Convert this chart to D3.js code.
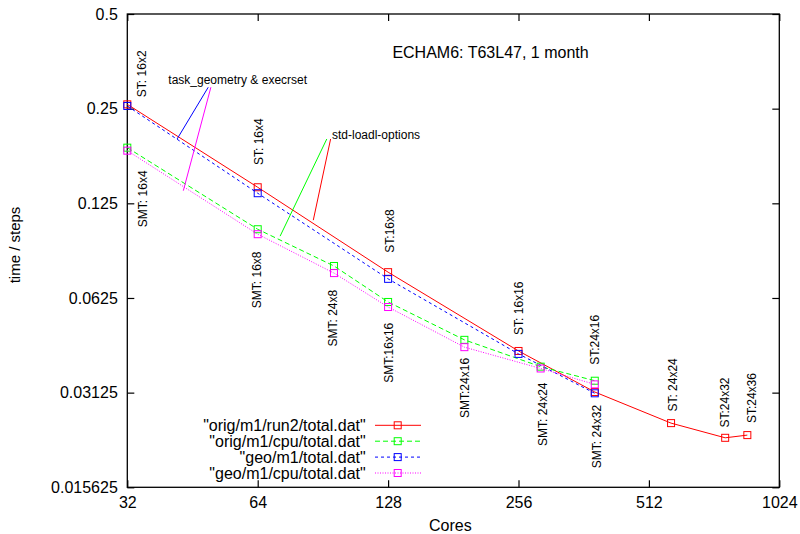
<!DOCTYPE html>
<html>
<head>
<meta charset="utf-8">
<script src="https://cdn.jsdelivr.net/npm/d3@7"></script>
<style>
	body { margin: 0; background: #fff; }
	#vizHolder { width: 800px; height: 534px; }
	text { font-family: "Liberation Sans", Arial, sans-serif; }
</style>
</head>
<body>
<div id="vizHolder"></div>
<script>
// data (cores -> time per step)
var xTicks = [32, 64, 128, 256, 512, 1024],
	yTicks = [0.015625, 0.03125, 0.0625, 0.125, 0.25, 0.5];

var origRunCores = [32, 64, 128, 256, 384, 576, 768, 864],
	origRunTime  = [0.258, 0.1406, 0.0755, 0.0424, 0.0314, 0.0250, 0.02245, 0.0229];

var origCpuCores = [32, 64, 96, 128, 192, 288, 384],
	origCpuTime  = [0.1879, 0.1034, 0.0790, 0.0607, 0.0460, 0.0378, 0.0341];

var geoCores = [32, 64, 128, 256, 384],
	geoTime  = [0.255, 0.1346, 0.0719, 0.0415, 0.0311];

var geoCpuCores = [32, 64, 96, 128, 192, 288, 384],
	geoCpuTime  = [0.1838, 0.0997, 0.0750, 0.0585, 0.0436, 0.0373, 0.0332];

var seriesNames = ['"orig/m1/run2/total.dat"', '"orig/m1/cpu/total.dat"', '"geo/m1/total.dat"', '"geo/m1/cpu/total.dat"'];

// point annotations: text, cores, time (bottom of rotated text)
var pointLabels = [
	['ST: 16x2', 34.6, 0.272],
	['SMT: 16x4', 34.8, 0.105],
	['ST: 16x4', 64.4, 0.1655],
	['SMT: 16x8', 63.7, 0.058],
	['SMT: 24x8', 95.5, 0.0438],
	['ST:16x8', 128.9, 0.0871],
	['SMT:16x16', 128.8, 0.0336],
	['SMT:24x16', 192.6, 0.02596],
	['ST: 16x16', 257, 0.0477],
	['SMT: 24x24', 291, 0.02116],
	['ST:24x16', 384, 0.0383],
	['SMT: 24x32', 388, 0.01796],
	['ST: 24x24', 581, 0.0272],
	['ST:24x32', 764.6, 0.0242],
	['ST:24x36', 884, 0.025]
];

// pointer lines from the two notes
var noteTexts = [['task_geometry & execrset', 39.8, 0.308], ['std-loadl-options', 95.0, 0.2061]];
var noteLines = [
	[49.2, 0.2924, 41.7, 0.2002, 'blue'],
	[49.9, 0.2924, 43.1, 0.1371, 'magenta'],
	[92.4, 0.2002, 72.1, 0.0983, 'green'],
	[94.3, 0.2002, 86.0, 0.1105, 'red']
];

var vizHolder = document.querySelector('#vizHolder'),
	width = 800,
	height = 534,
	margin = {left: 127.3, right: 20.7, top: 14, bottom: 46.7},
	font = '"Liberation Sans", Arial, sans-serif';

var colors = {red: '#ff0000', green: '#00ff00', blue: '#0000ff', magenta: '#ff00ff'};
var series = [
	{cores: origRunCores, time: origRunTime, color: colors.red, dash: null},
	{cores: origCpuCores, time: origCpuTime, color: colors.green, dash: '5,3'},
	{cores: geoCores, time: geoTime, color: colors.blue, dash: '3,3'},
	{cores: geoCpuCores, time: geoCpuTime, color: colors.magenta, dash: '1,1.5'}
];

var xScale = d3.scaleLog().base(2)
	.domain([32, 1024])
	.range([margin.left, width - margin.right]);

var yScale = d3.scaleLog().base(2)
	.domain([0.015625, 0.5])
	.range([height - margin.bottom, margin.top]);

var svg = d3.select(vizHolder)
	.append('svg')
	.attr('width', width)
	.attr('height', height);

var fmt = function(d) { return String(d); };

// axes, ticks inward on all sides
var xAxis = svg.append('g')
	.attr('transform', 'translate(0,' + (height - margin.bottom) + ')')
	.call(d3.axisBottom(xScale).tickValues(xTicks).tickFormat(fmt).tickSize(-7).tickSizeOuter(0).tickPadding(9));

var yAxis = svg.append('g')
	.attr('transform', 'translate(' + margin.left + ',0)')
	.call(d3.axisLeft(yScale).tickValues(yTicks).tickFormat(fmt).tickSize(-7).tickSizeOuter(0).tickPadding(9.5));

svg.append('g')
	.attr('transform', 'translate(0,' + margin.top + ')')
	.call(d3.axisTop(xScale).tickValues(xTicks).tickFormat('').tickSize(-7).tickSizeOuter(0));

svg.append('g')
	.attr('transform', 'translate(' + (width - margin.right) + ',0)')
	.call(d3.axisRight(yScale).tickValues(yTicks).tickFormat('').tickSize(-7).tickSizeOuter(0));

svg.selectAll('.domain').remove();
svg.selectAll('.tick line').attr('stroke', '#000').attr('stroke-width', 1.2);
svg.selectAll('.tick text')
	.attr('font-family', font)
	.attr('font-size', 16)
	.attr('fill', '#000');

svg.append('rect')
	.attr('x', margin.left)
	.attr('y', margin.top)
	.attr('width', width - margin.left - margin.right)
	.attr('height', height - margin.top - margin.bottom)
	.attr('fill', 'none')
	.attr('stroke', '#000')
	.attr('stroke-width', 1.3);

// axis titles
svg.append('text')
	.attr('x', (margin.left + width - margin.right) / 2 - 3)
	.attr('y', 531)
	.attr('text-anchor', 'middle')
	.attr('font-size', 16)
	.text('Cores');

svg.append('text')
	.attr('transform', 'translate(20,245) rotate(-90)')
	.attr('text-anchor', 'middle')
	.attr('font-size', 15)
	.text('time / steps');

svg.append('text')
	.attr('x', 490.5)
	.attr('y', 58)
	.attr('text-anchor', 'middle')
	.attr('font-size', 16)
	.text('ECHAM6: T63L47, 1 month');

// series lines + square points
var line = d3.line()
	.x(function(d) { return xScale(d[0]); })
	.y(function(d) { return yScale(d[1]); });

series.forEach(function(s) {
	var pts = d3.zip(s.cores, s.time);
	svg.append('path')
		.datum(pts)
		.attr('d', line)
		.attr('fill', 'none')
		.attr('stroke', s.color)
		.attr('stroke-width', 1)
		.attr('stroke-dasharray', s.dash);

	svg.selectAll(null)
		.data(pts)
		.enter()
		.append('rect')
		.attr('x', function(d) { return xScale(d[0]) - 3.5; })
		.attr('y', function(d) { return yScale(d[1]) - 3.5; })
		.attr('width', 7)
		.attr('height', 7)
		.attr('fill', 'none')
		.attr('stroke', s.color)
		.attr('stroke-width', 1);
});

// notes with pointer lines
svg.selectAll(null)
	.data(noteLines)
	.enter()
	.append('line')
	.attr('x1', function(d) { return xScale(d[0]); })
	.attr('y1', function(d) { return yScale(d[1]); })
	.attr('x2', function(d) { return xScale(d[2]); })
	.attr('y2', function(d) { return yScale(d[3]); })
	.attr('stroke', function(d) { return colors[d[4]]; })
	.attr('stroke-width', 1);

svg.selectAll(null)
	.data(noteTexts)
	.enter()
	.append('text')
	.attr('x', function(d) { return xScale(d[1]); })
	.attr('y', function(d) { return yScale(d[2]); })
	.attr('dy', '0.35em')
	.attr('font-size', 12)
	.text(function(d) { return d[0]; });

// rotated point labels
svg.selectAll(null)
	.data(pointLabels)
	.enter()
	.append('text')
	.attr('transform', function(d) {
		return 'translate(' + xScale(d[1]) + ',' + yScale(d[2]) + ') rotate(-90)';
	})
	.attr('dy', '0.35em')
	.attr('font-size', 12)
	.text(function(d) { return d[0]; });

// legend
var legend = svg.append('g');
series.forEach(function(s, i) {
	var ly = 425.3 + i * 15.9;
	legend.append('text')
		.attr('x', 365.7)
		.attr('y', ly)
		.attr('dy', '0.35em')
		.attr('text-anchor', 'end')
		.attr('font-size', 16)
		.text(seriesNames[i]);
	legend.append('line')
		.attr('x1', 375).attr('x2', 421)
		.attr('y1', ly).attr('y2', ly)
		.attr('stroke', s.color)
		.attr('stroke-width', 1)
		.attr('stroke-dasharray', s.dash);
	legend.append('rect')
		.attr('x', 394.2).attr('y', ly - 3.5)
		.attr('width', 7).attr('height', 7)
		.attr('fill', 'none')
		.attr('stroke', s.color);
});
</script>
</body>
</html>
